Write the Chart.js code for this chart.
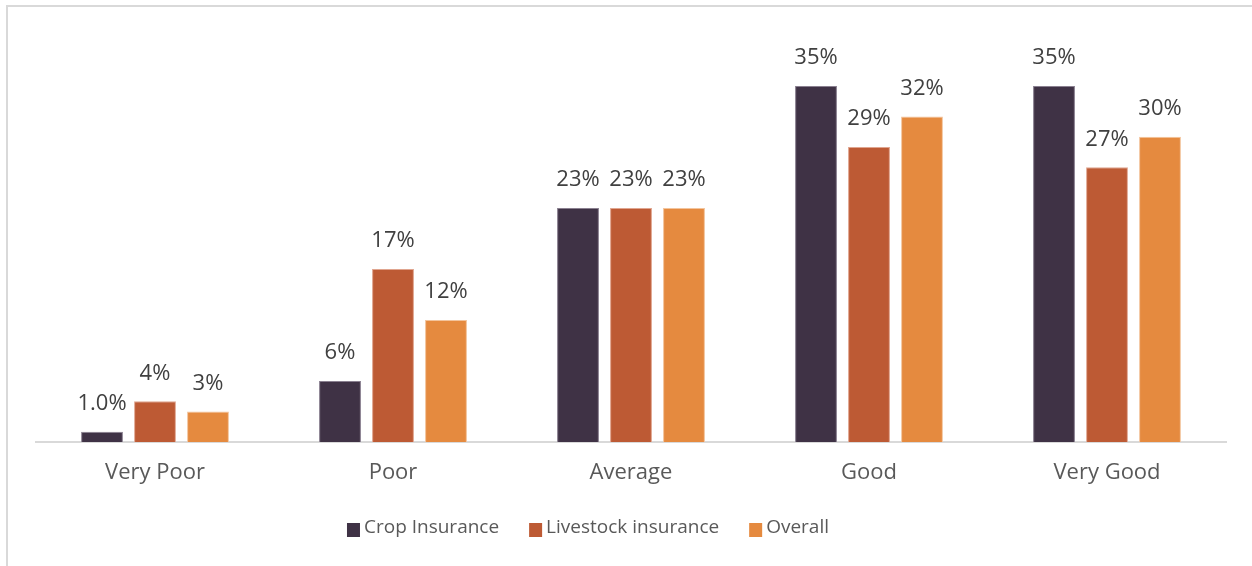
<!DOCTYPE html>
<html>
<head>
<meta charset="utf-8">
<script src="https://cdn.jsdelivr.net/npm/chart.js@4.4.1/dist/chart.umd.min.js"></script>
<style>
  html, body { margin: 0; padding: 0; background: #ffffff; }
  #wrap { position: relative; width: 1252px; height: 566px; }
  canvas { display: block; }
</style>
</head>
<body>
<div id="wrap"><canvas id="chart" width="1252" height="566"></canvas></div>
<script>
// Ratings given for each insurance type (share of respondents, %)
const categories = ['Very Poor', 'Poor', 'Average', 'Good', 'Very Good'];
const seriesNames = ['Crop Insurance', 'Livestock insurance', 'Overall'];
const cropInsurance = [1.0, 6, 23, 35, 35];
const livestockInsurance = [4, 17, 23, 29, 27];
const overall = [3, 12, 23, 32, 30];
// decimals shown in each value label
const cropDigits = [1, 0, 0, 0, 0];
const livestockDigits = [0, 0, 0, 0, 0];
const overallDigits = [0, 0, 0, 0, 0];

const colors = ['#3f3245', '#bd5a34', '#e58a3f'];
const borders = ['#8a8090', '#e0a58f', '#f3c49c'];
const FONT = '"Open Sans", "Segoe UI", sans-serif';

// value labels above each bar
const valueLabels = {
  id: 'valueLabels',
  afterDatasetsDraw(chart) {
    const ctx = chart.ctx;
    ctx.save();
    ctx.font = '22px ' + FONT;
    ctx.fillStyle = '#404040';
    ctx.textAlign = 'center';
    ctx.textBaseline = 'middle';
    chart.data.datasets.forEach((ds, i) => {
      const meta = chart.getDatasetMeta(i);
      meta.data.forEach((bar, j) => {
        const txt = ds.data[j].toFixed(ds.digits[j]) + '%';
        ctx.fillText(txt, bar.x, bar.y - 28);
      });
    });
    ctx.restore();
  }
};

// outer frame and legend row
const frameAndLegend = {
  id: 'frameAndLegend',
  beforeDraw(chart) {
    const ctx = chart.ctx;
    ctx.save();
    ctx.fillStyle = '#d9d9d9';
    ctx.fillRect(6, 5, chart.width - 6, 2);
    ctx.fillRect(6, 5, 2, chart.height - 5);
    ctx.restore();
  },
  afterDraw(chart) {
    const ctx = chart.ctx;
    ctx.save();
    ctx.font = '19px ' + FONT;
    ctx.textBaseline = 'middle';
    ctx.textAlign = 'left';
    const box = 13, textGap = 4, itemGap = 30;
    const items = chart.data.datasets.map(ds => ({
      label: ds.label, color: ds.backgroundColor,
      w: box + textGap + ctx.measureText(ds.label).width
    }));
    const total = items.reduce((s, it) => s + it.w, 0) + itemGap * (items.length - 1);
    let x = 588 - total / 2;
    const y = 528;
    items.forEach(it => {
      ctx.fillStyle = it.color;
      ctx.fillRect(x, y - 5, box, 14);
      ctx.fillStyle = '#595959';
      ctx.fillText(it.label, x + box + textGap, y);
      x += it.w + itemGap;
    });
    ctx.restore();
  }
};

new Chart(document.getElementById('chart'), {
  type: 'bar',
  data: {
    labels: categories,
    datasets: [
      { label: seriesNames[0], data: cropInsurance, digits: cropDigits,
        backgroundColor: colors[0], borderColor: borders[0], borderWidth: 1 },
      { label: seriesNames[1], data: livestockInsurance, digits: livestockDigits,
        backgroundColor: colors[1], borderColor: borders[1], borderWidth: 1 },
      { label: seriesNames[2], data: overall, digits: overallDigits,
        backgroundColor: colors[2], borderColor: borders[2], borderWidth: 1 }
    ]
  },
  options: {
    responsive: false,
    animation: false,
    events: [],
    categoryPercentage: 0.668,
    barPercentage: 0.79,
    layout: { padding: { left: 36, right: 26, top: 35, bottom: 0 } },
    plugins: {
      legend: { display: false },
      tooltip: { enabled: false }
    },
    scales: {
      x: {
        grid: { display: false, drawTicks: false },
        border: { display: true, color: '#d9d9d9', width: 2 },
        ticks: { color: '#595959', font: { family: FONT, size: 22 }, padding: 18 },
        afterFit(scale) { scale.height = 124; }
      },
      y: {
        display: false,
        min: 0,
        max: 40
      }
    }
  },
  plugins: [valueLabels, frameAndLegend]
});
</script>
</body>
</html>
